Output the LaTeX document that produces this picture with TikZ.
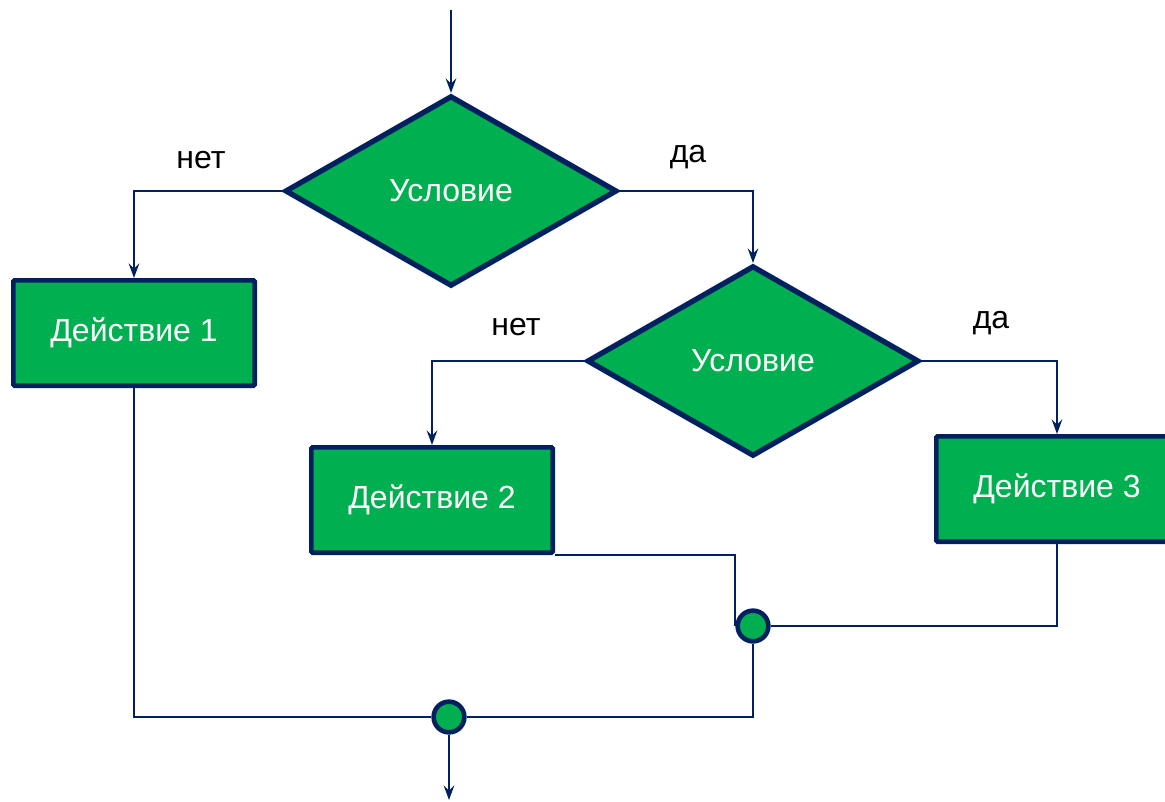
\documentclass[tikz,border=0pt]{standalone}
\usepackage{fontspec}
\setmainfont{Liberation Sans}
\usetikzlibrary{arrows.meta, positioning, shapes.geometric, calc}
\definecolor{navy}{HTML}{002060}
\definecolor{leaf}{HTML}{00B050}
\tikzset{%
	cond/.style={draw=navy, line width=4pt, diamond, fill=leaf, inner sep=0mm,%
		minimum width=249pt, minimum height=143pt, text=white, font=\fontsize{24}{28}\selectfont},
	act/.style={draw=navy, line width=3.5pt, rectangle, fill=leaf, rounded corners=1pt,%
		minimum width=181pt, minimum height=79pt, text=white, font=\fontsize{24}{28}\selectfont},
	junc/.style={draw=navy, line width=3.5pt, circle, fill=leaf, minimum size=23pt, inner sep=0mm},
	lbl/.style={text=black, font=\fontsize{24}{28}\selectfont},
	link/.style={draw=navy, line width=1.5pt},
	flow/.style={link, -{Stealth[length=11pt, width=8pt, inset=4pt]}}
}
\begin{document}
\begin{tikzpicture}[x=0.75pt, y=-0.75pt]
	\clip (0,0) rectangle (1165,801);
	\coordinate (in) at (451,10);
	\node[cond] (c1) at (451,191) {Условие};
	\node[act] (a1) at (134,333) {Действие 1};
	\node[cond] (c2) at (753,361) {Условие};
	\node[act] (a2) at (432,500) {Действие 2};
	\node[act] (a3) at (1057,489) {Действие 3};
	\node[junc] (j1) at (753,626) {};
	\node[junc] (j2) at (449,717) {};
	\coordinate (out) at (449,800);

	\node[lbl] (n1) at (201,160) {нет};
	\node[lbl] (y1) at (688,157) {да};
	\node[lbl] (n2) at (516,327) {нет};
	\node[lbl] (y2) at (991,323) {да};

	\draw[flow] (in) to (c1);
	\draw[flow] (c1.west) -| (a1.north);
	\draw[flow] (c1.east) -| (c2.north);
	\draw[flow] (c2.west) -| (a2.north);
	\draw[flow] (c2.east) -| (a3.north);
	\draw[link] (a2.south east) -| (j1.west);
	\draw[link] (a3.south) |- (j1.east);
	\draw[link] (j1.south) |- (j2.east);
	\draw[link] (a1.south) |- (j2.west);
	\draw[flow] (j2.south) to (out);
\end{tikzpicture}
\end{document}
